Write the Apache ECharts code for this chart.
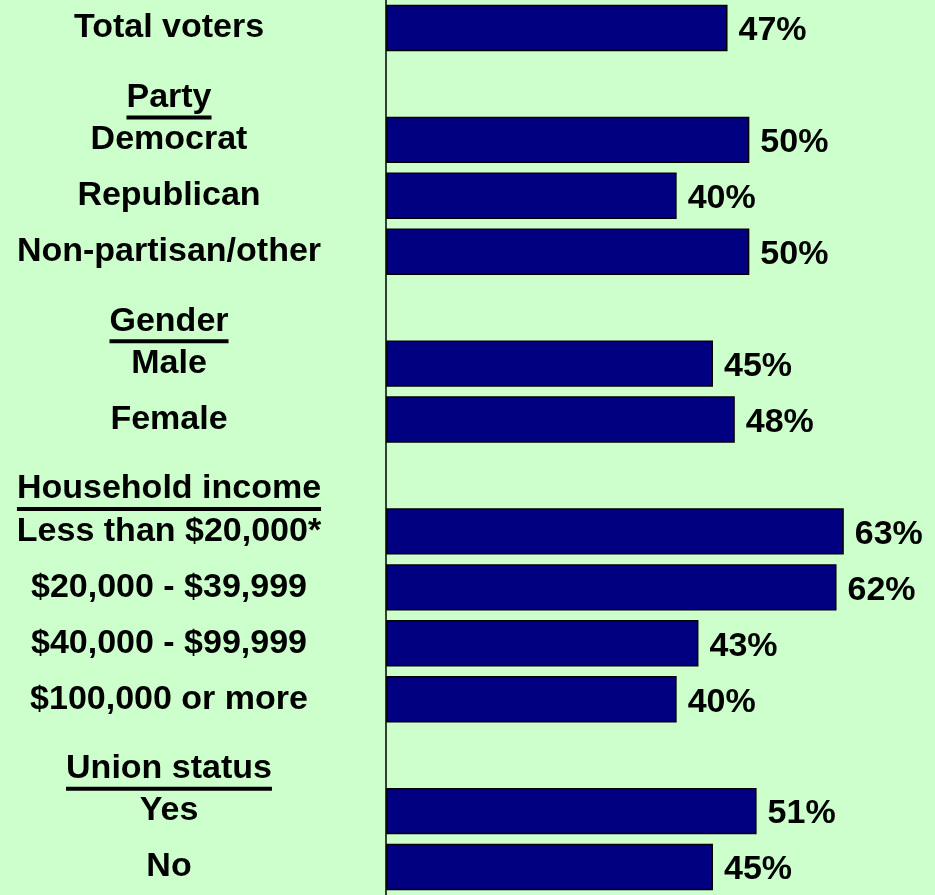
<!DOCTYPE html>
<html>
<head>
<meta charset="utf-8">
<script src="https://cdn.jsdelivr.net/npm/echarts@6/dist/echarts.min.js"></script>
<style>
html,body{margin:0;padding:0;background:#CCFFCC;}
#chart{width:935px;height:895px;}
</style>
</head>
<body>
<div id="chart"></div>
<script>
const categories = [
  'Total voters', 'Party', 'Democrat', 'Republican', 'Non-partisan/other',
  'Gender', 'Male', 'Female', 'Household income', 'Less than $20,000*',
  '$20,000 - $39,999', '$40,000 - $99,999', '$100,000 or more',
  'Union status', 'Yes', 'No'
];
const headers = ['Party', 'Gender', 'Household income', 'Union status'];
const values = [47, null, 50, 40, 50, null, 45, 48, null, 63, 62, 43, 40, null, 51, 45];

const FONT = 'Liberation Sans, Arial, sans-serif';
const chart = echarts.init(document.getElementById('chart'));
chart.setOption({
  backgroundColor: '#CCFFCC',
  animation: false,
  grid: { left: 386, right: 4, top: 0, bottom: -2, containLabel: false },
  xAxis: {
    type: 'value', min: 0, max: 75, show: false
  },
  yAxis: {
    type: 'category',
    data: categories,
    inverse: true,
    axisLine: { show: true, lineStyle: { color: '#000', width: 1.5 } },
    axisTick: { show: false },
    splitLine: { show: false },
    axisLabel: {
      align: 'center',
      margin: 217,
      interval: 0,
      formatter: function (v) {
        if (headers.indexOf(v) >= 0) {
          return '{s| }\n{h|' + v + '}\n{u|' + v + '}';
        }
        return '{n|' + v + '}';
      },
      rich: {
        n: { fontSize: 34, fontWeight: 'bold', color: '#000', fontFamily: FONT },
        h: { fontSize: 34, fontWeight: 'bold', color: '#000', fontFamily: FONT, lineHeight: 36 },
        s: { fontSize: 2, lineHeight: 31 },
        u: { fontSize: 34, fontWeight: 'bold', fontFamily: FONT, color: 'transparent', backgroundColor: '#000', height: 4, lineHeight: 4 }
      }
    }
  },
  series: [{
    type: 'bar',
    data: values,
    barCategoryGap: '17%',
    itemStyle: { color: '#000080', borderColor: '#000', borderWidth: 1.5 },
    label: {
      show: true,
      position: 'right',
      distance: 11,
      offset: [0, 3],
      formatter: '{c}%',
      fontSize: 34,
      fontWeight: 'bold',
      color: '#000',
      fontFamily: FONT
    }
  }]
});
</script>
</body>
</html>
